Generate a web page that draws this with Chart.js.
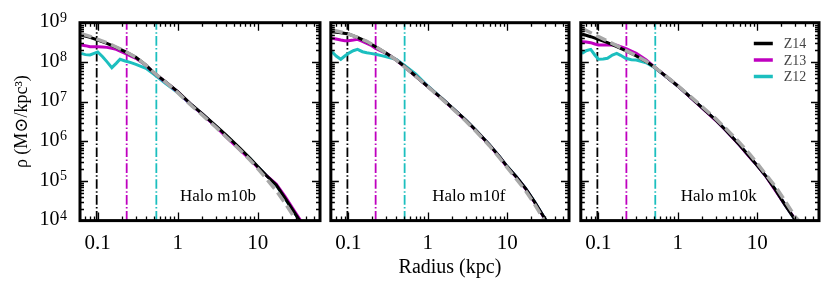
<!DOCTYPE html>
<html><head><meta charset="utf-8">
<script src="https://cdn.jsdelivr.net/npm/chart.js@4/dist/chart.umd.min.js"></script>
<style>
html,body{margin:0;padding:0;background:#fff;}
#wrap{position:relative;width:831px;height:291px;overflow:hidden;}
canvas{position:absolute;top:0;}
</style></head><body>
<div id="wrap">
<canvas id="c0" width="325" height="291" style="left:0px"></canvas>
<canvas id="c1" width="250" height="291" style="left:325px"></canvas>
<canvas id="c2" width="256" height="291" style="left:575px"></canvas>
</div>
<script>
// ---------- data ----------
const HALOS = ['Halo m10b', 'Halo m10f', 'Halo m10k'];
const SERIES_NAMES = ['Z14', 'Z13', 'Z12'];
const X_TICKS = [0.1, 1, 10];
const Y_TICKS = [1e4, 1e5, 1e6, 1e7, 1e8, 1e9];

// radii (kpc)
const R_MAIN = [0.062, 0.08, 0.1, 0.13, 0.17, 0.22, 0.3, 0.4, 0.5, 0.7, 1, 1.5, 2, 3, 4, 6, 8, 10, 13, 17, 22, 30, 35];
const R_FINE = [0.062, 0.07, 0.08, 0.09, 0.1, 0.115, 0.13, 0.15, 0.17, 0.19, 0.22, 0.26, 0.3, 0.4, 0.5, 0.7, 1, 1.5, 2, 3, 4, 6, 8, 10, 13, 17, 22, 30, 35];

// Halo m10b
const M10B_Z14 = [4.88e8, 4.26e8, 3.65e8, 3.01e8, 2.38e8, 1.85e8, 1.33e8, 8.53e7, 5.46e7, 3.24e7, 1.81e7, 8.34e6, 5.13e6, 2.46e6, 1.46e6, 6.71e5, 3.75e5, 2.31e5, 1.34e5, 7.96e4, 3.66e4, 1.39e4, 8.6e3];
const M10B_FIT = [5.27e8, 4.52e8, 3.80e8, 3.13e8, 2.43e8, 1.89e8, 1.33e8, 8.53e7, 5.57e7, 3.18e7, 1.71e7, 7.86e6, 4.75e6, 2.28e6, 1.32e6, 6.09e5, 3.40e5, 2.06e5, 1.11e5, 5.73e4, 2.74e4, 1.04e4, 6.4e3];
const M10B_Z13 = [2.73e8, 2.63e8, 2.48e8, 2.48e8, 2.48e8, 2.43e8, 2.38e8, 2.25e8, 2.12e8, 1.92e8, 1.68e8, 1.44e8, 1.26e8, 8.37e7, 5.46e7, 3.18e7, 1.78e7, 8.18e6, 5.04e6, 2.36e6, 1.32e6, 6.09e5, 3.54e5, 2.22e5, 1.34e5, 8.4e4, 4.04e4, 1.53e4, 9.4e3];
const M10B_Z12 = [1.68e8, 1.56e8, 1.53e8, 1.68e8, 1.82e8, 1.38e8, 1.04e8, 7.31e7, 9.40e7, 1.19e8, 1.08e8, 9.77e7, 8.87e7, 7.03e7, 5.06e7, 2.94e7, 1.71e7, 8.18e6, 5.04e6, 2.41e6, 1.40e6, 6.45e5, 3.68e5, 2.27e5, 1.34e5, 7.96e4, 3.66e4, 1.39e4, 8.6e3];

// Halo m10f
const M10F_Z14 = [5.93e8, 5.59e8, 5.17e8, 4.26e8, 3.31e8, 2.48e8, 1.68e8, 1.14e8, 8.05e7, 4.50e7, 2.42e7, 1.23e7, 7.28e6, 3.48e6, 1.95e6, 8.14e5, 4.13e5, 2.31e5, 1.29e5, 6.56e4, 3.02e4, 1.10e4, 6.4e3];
const M10F_FIT = [6.53e8, 5.81e8, 5.17e8, 4.26e8, 3.38e8, 2.48e8, 1.68e8, 1.14e8, 7.89e7, 4.50e7, 2.42e7, 1.18e7, 7.00e6, 3.29e6, 1.84e6, 7.69e5, 3.82e5, 2.18e5, 1.13e5, 5.73e4, 2.64e4, 9.4e3, 5.8e3];
const M10F_Z13 = [4.02e8, 3.87e8, 3.65e8, 3.51e8, 3.51e8, 3.65e8, 3.80e8, 3.38e8, 3.01e8, 2.73e8, 2.25e8, 1.92e8, 1.68e8, 1.14e8, 7.89e7, 4.50e7, 2.42e7, 1.20e7, 7.14e6, 3.42e6, 1.91e6, 7.98e5, 4.05e5, 2.27e5, 1.27e5, 6.43e4, 2.96e4, 1.08e4, 6.3e3];
const M10F_Z12 = [1.85e8, 1.44e8, 1.19e8, 1.44e8, 1.68e8, 1.96e8, 2.12e8, 1.85e8, 1.75e8, 1.68e8, 1.59e8, 1.47e8, 1.38e8, 1.19e8, 8.53e7, 5.06e7, 2.52e7, 1.23e7, 7.28e6, 3.48e6, 1.95e6, 8.14e5, 4.13e5, 2.31e5, 1.29e5, 6.56e4, 3.02e4, 1.10e4, 6.4e3];

// Halo m10k
const M10K_Z14 = [5.17e8, 4.43e8, 3.80e8, 3.13e8, 2.48e8, 1.96e8, 1.44e8, 1.04e8, 7.74e7, 4.50e7, 2.52e7, 1.23e7, 7.28e6, 3.48e6, 1.95e6, 8.14e5, 4.13e5, 2.45e5, 1.29e5, 5.95e4, 2.64e4, 1.04e4, 7.1e3];
const M10K_FIT = [7.19e8, 5.59e8, 4.43e8, 3.44e8, 2.63e8, 2.00e8, 1.47e8, 1.06e8, 7.74e7, 4.59e7, 2.56e7, 1.28e7, 7.71e6, 3.77e6, 2.15e6, 9.33e5, 4.83e5, 2.81e5, 1.42e5, 7.22e4, 3.33e4, 1.26e4, 9.1e3];
const M10K_Z13 = [3.31e8, 3.25e8, 3.13e8, 2.89e8, 2.73e8, 2.73e8, 2.73e8, 2.73e8, 2.68e8, 2.48e8, 2.25e8, 1.92e8, 1.68e8, 1.14e8, 7.74e7, 4.50e7, 2.52e7, 1.20e7, 7.14e6, 3.42e6, 1.91e6, 7.98e5, 4.05e5, 2.45e5, 1.27e5, 5.73e4, 2.64e4, 1.08e4, 7.1e3];
const M10K_Z12 = [1.68e8, 1.96e8, 2.12e8, 1.53e8, 1.19e8, 1.21e8, 1.26e8, 1.53e8, 1.68e8, 1.50e8, 1.26e8, 1.16e8, 1.14e8, 9.77e7, 7.45e7, 4.50e7, 2.52e7, 1.23e7, 7.28e6, 3.48e6, 1.95e6, 8.14e5, 4.13e5, 2.45e5, 1.29e5, 5.95e4, 2.64e4, 1.04e4, 7.1e3];

// resolution radii (kpc) per halo: m10b, m10f, m10k
const RES_Z14 = [0.097, 0.097, 0.097];
const RES_Z13 = [0.23, 0.22, 0.225];
const RES_Z12 = [0.54, 0.51, 0.52];

// ---------- styling ----------
const FONT = "'Liberation Serif', 'DejaVu Serif', serif";
const COL = { Z14: '#000000', Z13: '#bf00bf', Z12: '#1cbfbf', FIT: '#a8a8a8' };

const PANELS = [
  { z14: M10B_Z14, fit: M10B_FIT, z13: M10B_Z13, z12: M10B_Z12 },
  { z14: M10F_Z14, fit: M10F_FIT, z13: M10F_Z13, z12: M10F_Z12 },
  { z14: M10K_Z14, fit: M10K_FIT, z13: M10K_Z13, z12: M10K_Z12 }
];
const PAD = [
  { left: 0, right: 5 },
  { left: 4.5, right: 6 },
  { left: 4, right: 12 }
];

const pts = (rs, vs) => rs.map((r, i) => ({ x: r, y: vs[i] }));
const vline = r => [{ x: r, y: 1e4 }, { x: r, y: 1e9 }];

const framePlugin = {
  id: 'frame',
  afterDatasetsDraw(chart, args, opts) {
    const { ctx, chartArea: a, scales: { x, y } } = chart;
    ctx.save();
    ctx.strokeStyle = '#000';
    ctx.lineWidth = 1.3;
    ctx.beginPath();
    for (let e = -2; e <= 2; e++) {
      for (let m = 1; m <= 9; m++) {
        const v = m * Math.pow(10, e);
        if (v < x.min * 1.0001 || v > x.max * 0.9999) continue;
        const px = Math.round(x.getPixelForValue(v)) + 0.5;
        const len = m === 1 ? 8 : 4;
        ctx.moveTo(px, a.bottom); ctx.lineTo(px, a.bottom - len);
        ctx.moveTo(px, a.top); ctx.lineTo(px, a.top + len);
      }
    }
    for (let e = 4; e <= 9; e++) {
      for (let m = 1; m <= 9; m++) {
        const v = m * Math.pow(10, e);
        if (v < y.min * 1.0001 || v > y.max * 0.9999) continue;
        const py = Math.round(y.getPixelForValue(v)) + 0.5;
        const len = m === 1 ? 8 : 4;
        ctx.moveTo(a.left, py); ctx.lineTo(a.left + len, py);
        ctx.moveTo(a.right, py); ctx.lineTo(a.right - len, py);
      }
    }
    ctx.stroke();
    ctx.lineWidth = 3;
    ctx.strokeRect(a.left, a.top, a.width, a.height);

    ctx.fillStyle = '#000';
    // y tick labels with true superscripts (first panel only)
    if (opts.yLabels) {
      ctx.textAlign = 'left';
      ctx.textBaseline = 'alphabetic';
      Y_TICKS.forEach(v => {
        const py = y.getPixelForValue(v);
        const exp = String(Math.round(Math.log10(v)));
        ctx.font = "14px " + FONT;
        const ew = ctx.measureText(exp).width;
        ctx.font = "20px " + FONT;
        const bw = ctx.measureText('10').width;
        const right = a.left - 13;
        ctx.fillText('10', right - ew - bw - 0.5, py + 4.5);
        ctx.font = "14px " + FONT;
        ctx.fillText(exp, right - ew, py - 1);
      });
    }

    // halo label
    ctx.font = "17px " + FONT;
    ctx.textAlign = 'center';
    ctx.textBaseline = 'middle';
    ctx.fillText(opts.label, a.left + 138, a.top + 174);

    if (opts.legend) {
      const ds = chart.data.datasets;
      const rows = [43.5, 60, 76.5];
      ctx.font = "14px " + FONT;
      ctx.textAlign = 'left';
      SERIES_NAMES.forEach((name, i) => {
        const d = ds.find(s => s.label === name);
        ctx.strokeStyle = d.borderColor;
        ctx.lineWidth = 3.5;
        ctx.beginPath();
        ctx.moveTo(a.left + 173, rows[i]);
        ctx.lineTo(a.left + 192, rows[i]);
        ctx.stroke();
        ctx.fillStyle = '#444';
        ctx.fillText(name, a.left + 203, rows[i] + 1);
      });
    }
    ctx.restore();
  }
};

function makeChart(idx) {
  const p = PANELS[idx];
  const datasets = [
    { label: 'fit', data: pts(R_MAIN, p.fit), borderColor: COL.FIT, borderWidth: 3.5, borderDash: [11, 5] },
    { label: 'Z14', data: pts(R_MAIN, p.z14), borderColor: COL.Z14, borderWidth: 3 },
    { label: 'Z13', data: pts(R_FINE, p.z13), borderColor: COL.Z13, borderWidth: 3 },
    { label: 'Z12', data: pts(R_FINE, p.z12), borderColor: COL.Z12, borderWidth: 3 },
    { label: 'res Z14', data: vline(RES_Z14[idx]), borderColor: COL.Z14, borderWidth: 1.8, borderDash: [9.6, 2.4, 1.5, 2.4] },
    { label: 'res Z13', data: vline(RES_Z13[idx]), borderColor: COL.Z13, borderWidth: 1.8, borderDash: [9.6, 2.4, 1.5, 2.4] },
    { label: 'res Z12', data: vline(RES_Z12[idx]), borderColor: COL.Z12, borderWidth: 1.8, borderDash: [9.6, 2.4, 1.5, 2.4] }
  ].map(d => Object.assign({ showLine: true, pointRadius: 0, pointHoverRadius: 0, fill: false, tension: 0, clip: 0 }, d));

  return new Chart(document.getElementById('c' + idx), {
    type: 'scatter',
    data: { datasets },
    plugins: [framePlugin],
    options: {
      responsive: false,
      animation: false,
      events: [],
      layout: { padding: { top: 22.7, bottom: 0, left: PAD[idx].left, right: PAD[idx].right } },
      plugins: {
        legend: { display: false },
        tooltip: { enabled: false },
        frame: { label: HALOS[idx], legend: idx === 2, yLabels: idx === 0 }
      },
      scales: {
        x: {
          type: 'logarithmic', min: 0.06, max: 60, position: 'bottom',
          grid: { display: false, drawTicks: false },
          border: { display: false },
          afterBuildTicks: s => { s.ticks = X_TICKS.map(v => ({ value: v })); },
          afterFit: s => { s.height = 70.4; },
          ticks: { color: '#000', font: { family: FONT, size: 21 }, padding: 10, maxRotation: 0, autoSkip: false,
                   callback: v => String(v) },
          title: { display: idx === 1, text: 'Radius (kpc)', color: '#000',
                   font: { family: FONT, size: 20 }, padding: { top: 0, bottom: 11 } }
        },
        y: {
          type: 'logarithmic', min: 1e4, max: 1e9, position: 'left',
          display: idx === 0,
          grid: { display: false, drawTicks: false },
          border: { display: false },
          afterBuildTicks: s => { s.ticks = Y_TICKS.map(v => ({ value: v })); },
          afterFit: s => { s.width = idx === 0 ? 80 : 0; },
          ticks: { display: false },
          title: { display: idx === 0, text: 'ρ (M⊙/kpc³)', color: '#000',
                   font: { family: FONT, size: 18 }, padding: { top: 11, bottom: 0 } }
        }
      }
    }
  });
}
[0, 1, 2].forEach(makeChart);
</script>
</body></html>
